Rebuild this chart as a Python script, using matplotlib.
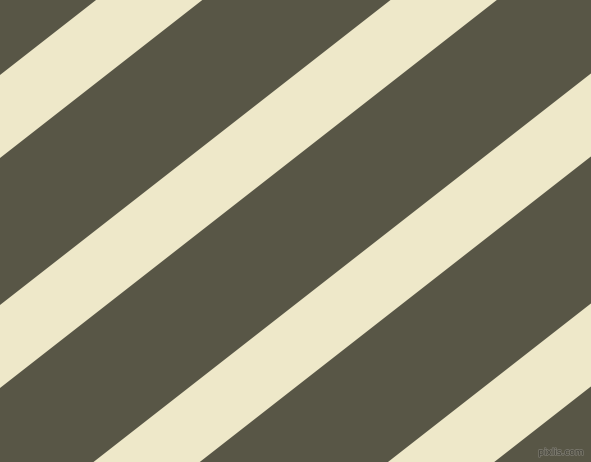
import numpy as np
import matplotlib.pyplot as plt
import matplotlib.patheffects as pe

W, H = 591, 462
bg_color = '#585646'
stripe_color = '#eee8c9'

# stripes: y where each stripe's upper edge meets x=0 (pixels from top)
stripe_top = [-155, 75, 305, 535, 765]
stripe_width = 83     # vertical thickness in pixels
slope = 0.781         # tan(38 deg)

fig = plt.figure(figsize=(W / 100, H / 100), dpi=100)
ax = fig.add_axes([0, 0, 1, 1])
ax.set_facecolor(bg_color)

x = np.array([0, W])
for y0 in stripe_top:
    upper = y0 - slope * x
    lower = upper + stripe_width
    ax.fill_between(x, upper, lower, color=stripe_color, linewidth=0)

ax.text(584, 457, 'pixlis.com', fontsize=6.5, color='#45443a', ha='right', va='bottom',
        path_effects=[pe.withStroke(linewidth=1.2, foreground='#77756a')])

ax.set_xlim(0, W)
ax.set_ylim(H, 0)
ax.axis('off')
fig.savefig('out.png', dpi=100, facecolor=bg_color)
